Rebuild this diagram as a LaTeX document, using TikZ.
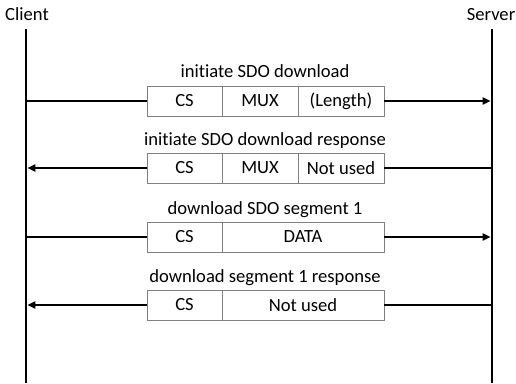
\documentclass[tikz,border=0pt]{standalone}
\usepackage{fontspec}
\setmainfont{Carlito}[Ligatures=NoCommon]
\usetikzlibrary{arrows.meta, positioning}

\begin{document}
\begin{tikzpicture}[x=1pt, y=-1pt, font=\fontsize{18.6}{22}\selectfont,
    field/.style={draw=gray, line width=0.9pt, minimum height=30pt, inner sep=0pt, outer sep=0pt, anchor=west},
    lifeline/.style={line width=2.8pt},
    msgline/.style={line width=2.2pt},
    msgarrow/.style={msgline, -{Triangle[length=8pt, width=7pt]}, shorten >=1.4pt},
    msgtext/.style={anchor=base, inner sep=0pt}]
    \useasboundingbox (0,0) rectangle (516,383);
    %%% Lifelines
    \node[msgtext] (client) at (27,20) {Client};
    \node[msgtext] (server) at (491,20) {Server};
    \coordinate (clienttop) at (26,29);
    \coordinate (clientbot) at (26,383);
    \coordinate (servertop) at (492,29);
    \coordinate (serverbot) at (492,383);
    \draw[lifeline] (clienttop) -- (clientbot);
    \draw[lifeline] (servertop) -- (serverbot);
    %
    %%% 1. initiate download (client -> server)
    \node[msgtext] (t1) at (265,77) {initiate SDO download};
    \node[field, minimum width=75pt] (cs1) at (147,101) {CS};
    \node[field, minimum width=76pt, right=0pt of cs1] (mux1) {MUX};
    \node[field, minimum width=86pt, right=0pt of mux1] (len1) {(Length)};
    \draw[msgline] (clienttop |- cs1.west) -- (cs1.west);
    \draw[msgarrow] (len1.east) -- (servertop |- len1.east);
    %
    %%% 2. response (server -> client)
    \node[msgtext] (t2) at (265,145) {initiate SDO download response};
    \node[field, minimum width=75pt] (cs2) at (147,168) {CS};
    \node[field, minimum width=76pt, right=0pt of cs2] (mux2) {MUX};
    \node[field, minimum width=86pt, right=0pt of mux2] (nu2) {Not used};
    \draw[msgline] (servertop |- nu2.east) -- (nu2.east);
    \draw[msgarrow] (cs2.west) -- (clienttop |- cs2.west);
    %
    %%% 3. segment (client -> server)
    \node[msgtext] (t3) at (265,214) {download SDO segment 1};
    \node[field, minimum width=75pt] (cs3) at (147,237) {CS};
    \node[field, minimum width=162pt, right=0pt of cs3] (data3) {DATA};
    \draw[msgline] (clienttop |- cs3.west) -- (cs3.west);
    \draw[msgarrow] (data3.east) -- (servertop |- data3.east);
    %
    %%% 4. segment response (server -> client)
    \node[msgtext] (t4) at (265,282) {download segment 1 response};
    \node[field, minimum width=75pt] (cs4) at (147,305) {CS};
    \node[field, minimum width=162pt, right=0pt of cs4] (nu4) {Not used};
    \draw[msgline] (servertop |- nu4.east) -- (nu4.east);
    \draw[msgarrow] (cs4.west) -- (clienttop |- cs4.west);
\end{tikzpicture}
\end{document}
